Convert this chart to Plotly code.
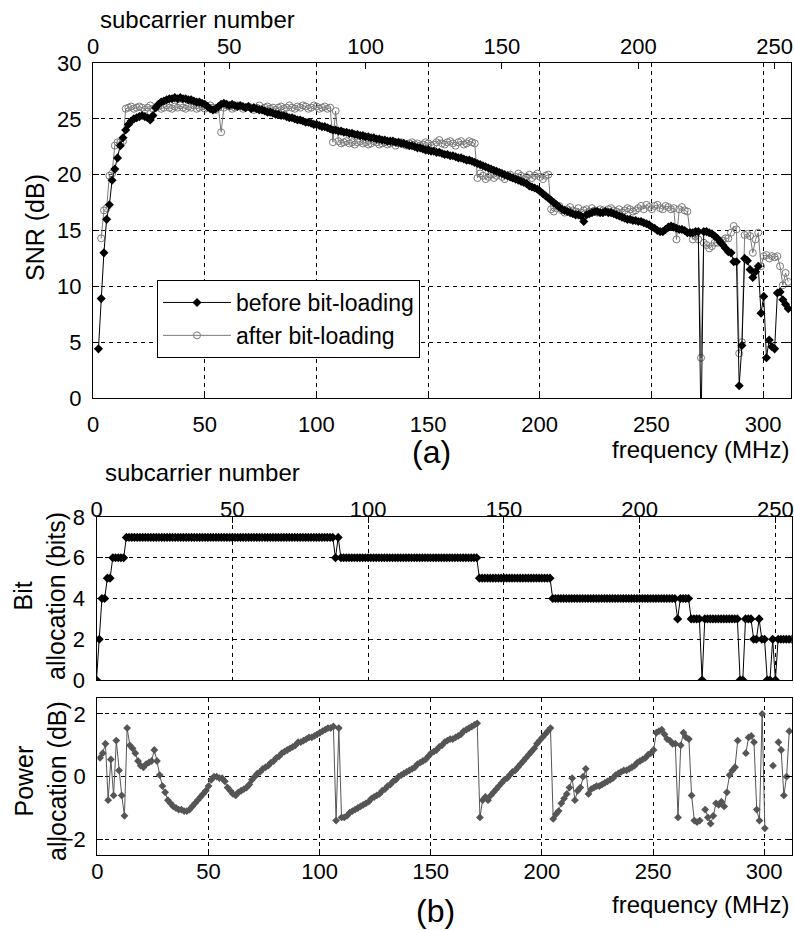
import plotly.graph_objects as go

# ---------------- data ----------------
SUBCARRIER = list(range(257))          # subcarrier index 0..256
FREQ_MAX_MHZ = 312.5                   # frequency of subcarrier 256
N_SUB = 256
FREQ = [k * FREQ_MAX_MHZ / N_SUB for k in SUBCARRIER]

SNR_BEFORE = [
    None, None, 4.4, 8.9, 13.0, 16.0, 17.3, 19.5, 20.5, 21.5,
    22.6, 23.3, 24.0, 24.5, 24.8, 25.0, 25.1, 25.2, 25.3, 25.2,
    25.1, 24.9, 25.3, 26.0, 26.3, 26.5, 26.6, 26.7, 26.8, 26.8,
    26.9, 26.8, 26.9, 26.8, 26.8, 26.7, 26.7, 26.6, 26.5, 26.5,
    26.4, 26.3, 26.1, 25.9, 25.8, 25.9, 26.1, 26.3, 26.4, 26.3,
    26.2, 26.3, 26.2, 26.1, 26.2, 26.1, 26.0, 26.1, 25.9, 26.0,
    25.9, 25.8, 25.8, 25.7, 25.6, 25.6, 25.5, 25.4, 25.4, 25.3,
    25.3, 25.2, 25.1, 25.1, 25.0, 24.9, 24.9, 24.8, 24.7, 24.7,
    24.6, 24.5, 24.5, 24.4, 24.3, 24.3, 24.2, 24.1, 24.0, 24.0,
    23.9, 23.9, 23.8, 23.8, 23.7, 23.7, 23.6, 23.6, 23.5, 23.5,
    23.4, 23.4, 23.3, 23.3, 23.2, 23.2, 23.1, 23.1, 23.0, 23.0,
    23.0, 22.9, 22.9, 22.8, 22.8, 22.7, 22.6, 22.6, 22.5, 22.4,
    22.4, 22.3, 22.2, 22.2, 22.1, 22.1, 22.0, 22.0, 21.9, 21.8,
    21.8, 21.7, 21.7, 21.6, 21.5, 21.5, 21.4, 21.3, 21.3, 21.2,
    21.1, 21.0, 20.9, 20.8, 20.7, 20.6, 20.5, 20.4, 20.3, 20.2,
    20.1, 20.0, 19.9, 19.8, 19.7, 19.6, 19.5, 19.4, 19.3, 19.2,
    19.0, 18.9, 18.8, 18.7, 18.5, 18.3, 18.1, 17.9, 17.7, 17.5,
    17.3, 17.1, 16.9, 16.8, 16.7, 16.6, 16.5, 16.4, 16.4, 16.3,
    15.8, 16.4, 16.5, 16.6, 16.7, 16.7, 16.6, 16.6, 16.7, 16.6,
    16.6, 16.5, 16.4, 16.3, 16.2, 16.1, 16.0, 16.0, 15.9, 15.9,
    15.8, 15.8, 15.7, 15.6, 15.5, 15.3, 15.2, 15.0, 14.9, 14.9,
    15.1, 15.3, 15.4, 15.3, 15.2, 15.1, 15.1, 15.0, 14.8, 14.8,
    14.8, 14.9, 14.9, -3.0, 14.9, 14.9, 14.8, 14.7, 14.5, 14.3,
    14.0, 13.7, 13.4, 13.1, 13.0, 12.2, 12.2, 1.1, 4.7, 12.5,
    12.3, 11.5, 10.8, 11.3, 11.8, 7.6, 9.1, 3.6, 5.2, 4.6,
    4.4, 9.4, 9.5, 8.8, 8.4, 8.0, None,
]

SNR_AFTER = [
    None, None, None, 14.3, 16.8, 17.0, 19.9, 20.1, 22.6, 22.9,
    22.9, 23.0, 25.9, 26.0, 26.1, 25.9, 26.0, 26.1, 26.0, 25.8,
    26.0, 26.2, 25.9, 26.0, 26.1, 25.9, 26.0, 26.2, 26.0, 25.9,
    26.1, 26.0, 26.2, 26.0, 25.9, 26.1, 26.0, 26.2, 25.9, 26.0,
    26.1, 25.9, 26.0, 26.2, 26.0, 25.8, 26.0, 23.8, 26.0, 26.2,
    26.1, 25.9, 26.0, 26.2, 26.1, 25.9, 26.0, 26.1, 26.0, 25.8,
    26.0, 26.2, 25.9, 26.0, 26.1, 25.9, 26.0, 25.8, 26.0, 26.1,
    25.9, 26.0, 26.2, 26.0, 25.9, 26.1, 26.0, 26.2, 26.1, 25.9,
    26.0, 26.2, 26.1, 25.9, 26.0, 26.1, 25.9, 26.0, 22.9, 25.7,
    23.0, 22.8, 22.9, 23.0, 22.8, 22.9, 22.7, 22.9, 23.0, 22.8,
    22.9, 22.7, 22.8, 23.0, 22.9, 22.7, 22.8, 22.9, 22.7, 22.8,
    22.9, 22.6, 22.8, 22.9, 22.7, 22.6, 22.8, 22.9, 22.7, 22.8,
    22.6, 22.7, 22.9, 22.8, 22.6, 22.7, 22.9, 23.1, 22.8, 22.7,
    22.9, 23.0, 22.8, 22.6, 22.9, 23.0, 22.7, 22.8, 23.0, 22.9,
    22.8, 19.7, 20.1, 19.9, 19.6, 19.8, 20.0, 19.7, 19.9, 20.2,
    19.8, 19.6, 19.9, 20.0, 19.7, 19.8, 20.1, 19.9, 19.6, 19.8,
    20.0, 19.7, 19.9, 20.1, 19.8, 19.6, 19.9, 20.0, 16.9, 16.7,
    17.0, 17.2, 16.8, 16.6, 16.9, 17.1, 16.8, 16.7, 17.0, 16.6,
    16.8, 16.9, 16.7, 17.0, 16.8, 16.6, 16.9, 16.8, 16.7, 16.9,
    17.0, 16.8, 16.7, 16.9, 16.6, 16.8, 17.0, 16.9, 16.7, 16.8,
    17.0, 17.2, 16.9, 17.3, 17.1, 16.9, 17.2, 17.3, 17.0, 16.9,
    17.2, 17.1, 16.9, 17.0, 14.2, 16.9, 17.1, 16.8, 16.7, 14.8,
    14.2, 14.5, 14.2, 3.6, 13.9, 13.7, 13.4, 13.6, 13.9, 13.9,
    14.0, 14.1, 14.3, 14.3, 14.8, 15.4, 15.1, 4.0, 5.0, 14.6,
    14.7, 14.5, 13.0, 14.2, 14.8, 11.8, 12.7, 12.8, 12.5, 12.7,
    12.6, 12.7, 11.8, 10.1, 11.2, 10.4, None,
]

BITS = [
    0, 2, 4, 4, 5, 5, 6, 6, 6, 6,
    6, 7, 7, 7, 7, 7, 7, 7, 7, 7,
    7, 7, 7, 7, 7, 7, 7, 7, 7, 7,
    7, 7, 7, 7, 7, 7, 7, 7, 7, 7,
    7, 7, 7, 7, 7, 7, 7, 7, 7, 7,
    7, 7, 7, 7, 7, 7, 7, 7, 7, 7,
    7, 7, 7, 7, 7, 7, 7, 7, 7, 7,
    7, 7, 7, 7, 7, 7, 7, 7, 7, 7,
    7, 7, 7, 7, 7, 7, 7, 7, 6, 7,
    6, 6, 6, 6, 6, 6, 6, 6, 6, 6,
    6, 6, 6, 6, 6, 6, 6, 6, 6, 6,
    6, 6, 6, 6, 6, 6, 6, 6, 6, 6,
    6, 6, 6, 6, 6, 6, 6, 6, 6, 6,
    6, 6, 6, 6, 6, 6, 6, 6, 6, 6,
    6, 5, 5, 5, 5, 5, 5, 5, 5, 5,
    5, 5, 5, 5, 5, 5, 5, 5, 5, 5,
    5, 5, 5, 5, 5, 5, 5, 5, 4, 4,
    4, 4, 4, 4, 4, 4, 4, 4, 4, 4,
    4, 4, 4, 4, 4, 4, 4, 4, 4, 4,
    4, 4, 4, 4, 4, 4, 4, 4, 4, 4,
    4, 4, 4, 4, 4, 4, 4, 4, 4, 4,
    4, 4, 4, 4, 3, 4, 4, 4, 4, 3,
    3, 3, 3, 0, 3, 3, 3, 3, 3, 3,
    3, 3, 3, 3, 3, 3, 3, 0, 0, 3,
    3, 3, 2, 2, 3, 2, 2, 0, 0, 2,
    0, 2, 2, 2, 2, 2, 2,
]

POWER_DB = [
    None, 0.6, 0.75, 1.05, -0.75, 0.55, -0.6, 1.15, 0.2, -0.6,
    -1.25, 1.55, 1.0, 0.9, 0.75, 0.5, 0.35, 0.3, 0.4, 0.45,
    0.5, 0.85, 0.5, 0.05, -0.3, -0.5, -0.75, -0.85, -0.95, -1.0,
    -1.05, -1.05, -1.1, -1.1, -1.05, -0.95, -0.85, -0.75, -0.65, -0.55,
    -0.45, -0.3, -0.1, 0.0, 0.0, -0.05, -0.05, -0.15, -0.35, -0.45,
    -0.55, -0.6, -0.5, -0.45, -0.4, -0.35, -0.25, -0.1, 0.0, 0.1,
    0.15, 0.25, 0.3, 0.35, 0.45, 0.5, 0.6, 0.65, 0.75, 0.8,
    0.85, 0.9, 0.95, 1.0, 1.1, 1.1, 1.15, 1.2, 1.25, 1.25,
    1.3, 1.35, 1.4, 1.45, 1.5, 1.55, 1.55, 1.6, -1.4, 1.55,
    -1.3, -1.3, -1.25, -1.15, -1.1, -1.05, -1.0, -0.95, -0.9, -0.85,
    -0.8, -0.7, -0.65, -0.6, -0.55, -0.45, -0.4, -0.3, -0.25, -0.15,
    -0.1, 0.0, 0.05, 0.1, 0.15, 0.2, 0.25, 0.3, 0.4, 0.45,
    0.5, 0.55, 0.65, 0.75, 0.8, 0.85, 0.95, 1.0, 1.1, 1.15,
    1.2, 1.2, 1.25, 1.3, 1.35, 1.45, 1.5, 1.55, 1.6, 1.65,
    1.7, -1.3, -0.75, -0.65, -0.75, -0.6, -0.5, -0.4, -0.3, -0.2,
    -0.1, -0.05, 0.05, 0.15, 0.2, 0.3, 0.4, 0.5, 0.6, 0.7,
    0.8, 0.9, 1.05, 1.15, 1.25, 1.35, 1.45, 1.55, -1.35, -1.2,
    -1.1, -0.85, -0.7, -0.55, -0.35, -0.05, -0.75, -0.45, -0.35, 0.0,
    0.25, -0.55, -0.4, -0.35, -0.3, -0.3, -0.25, -0.2, -0.15, -0.1,
    -0.05, 0.05, 0.1, 0.15, 0.2, 0.2, 0.25, 0.3, 0.35, 0.45,
    0.5, 0.55, 0.6, 0.7, 0.75, 0.85, 1.4, 1.45, 1.5, 1.35,
    1.2, 1.15, 1.05, 1.05, -1.3, 1.0, 1.4, 1.25, 1.2, -0.6,
    -1.4, -1.45, -1.4, None, -1.05, -1.3, -1.5, -1.25, -0.85, -0.9,
    -0.8, -0.95, -0.5, 0.05, 0.2, 0.3, 1.15, None, None, 0.75,
    1.25, 1.3, 1.1, -1.05, -1.4, 2.0, -1.65, None, None, 0.35,
    None, 1.1, 0.85, -0.6, 0.0, 1.45, None,
]

FREQ_TICKS = [0, 50, 100, 150, 200, 250, 300]
SUB_TICKS = [0, 50, 100, 150, 200, 250]
SNR_TICKS = [0, 5, 10, 15, 20, 25, 30]
BIT_TICKS = [0, 2, 4, 6, 8]
POW_TICKS = [-2, 0, 2]

# ---------------- styling ----------------
W, H = 794, 930
FONT = "Liberation Sans, Arial, sans-serif"
GREY = "#7a7a7a"
PGREY = "#555555"


def px(x):
    return x / W


def py(y):
    return 1 - y / H


common_axis = dict(
    showline=True, linecolor="black", linewidth=1.3,
    ticks="inside", ticklen=6, tickcolor="black", tickwidth=1,
    tickfont=dict(family=FONT, size=22, color="black"),
    gridcolor="black", gridwidth=1, griddash="4px,4px",
    zeroline=False, tickmode="array", ticklabelstandoff=6,
    automargin=False,
)

fig = go.Figure()

# "before" drawn against the subcarrier-number axis (top), "after" against the
# frequency axis (bottom); both axes span the same subcarriers, so the marks line up.
fig.add_trace(go.Scatter(
    x=SUBCARRIER, y=SNR_BEFORE, name="before bit-loading", mode="lines+markers",
    line=dict(color="black", width=1),
    marker=dict(symbol="diamond", size=7, color="black"),
    xaxis="x2", yaxis="y",
))
fig.add_trace(go.Scatter(
    x=FREQ, y=SNR_AFTER, name="after bit-loading", mode="lines+markers",
    line=dict(color=GREY, width=1),
    marker=dict(symbol="circle-open", size=7, color=GREY, line=dict(width=1)),
    xaxis="x", yaxis="y",
))
fig.add_trace(go.Scatter(
    x=SUBCARRIER, y=BITS, mode="lines+markers", showlegend=False,
    line=dict(color="black", width=1),
    marker=dict(symbol="diamond", size=7, color="black"),
    xaxis="x3", yaxis="y2",
))
fig.add_trace(go.Scatter(
    x=FREQ, y=POWER_DB, mode="lines+markers", showlegend=False,
    line=dict(color=PGREY, width=1),
    marker=dict(symbol="diamond", size=6, color=PGREY),
    xaxis="x4", yaxis="y3",
))

dom_a_x = [px(93), px(791)]
dom_a_y = [py(398), py(63)]
dom_b1_x = [px(96.5), px(791.7)]
dom_b1_y = [py(680), py(517)]
dom_b2_x = [px(97.3), px(792)]
dom_b2_y = [py(855), py(698.3)]

fig.update_layout(
    width=W, height=H, autosize=False,
    margin=dict(l=0, r=0, t=0, b=0, pad=0),
    paper_bgcolor="white", plot_bgcolor="white",
    font=dict(family=FONT, size=22, color="black"),
    xaxis=dict(common_axis, domain=dom_a_x, anchor="y", side="bottom",
               range=[0, FREQ_MAX_MHZ], tickvals=FREQ_TICKS, showgrid=True,
               mirror=True),
    xaxis2=dict(common_axis, overlaying="x", anchor="y", side="top",
                range=[0, N_SUB], tickvals=SUB_TICKS, showgrid=False,
                showline=False, ticklabelstandoff=4),
    yaxis=dict(common_axis, domain=dom_a_y, anchor="x", range=[0, 30],
               tickvals=SNR_TICKS, showgrid=True, mirror="ticks"),
    xaxis3=dict(common_axis, domain=dom_b1_x, anchor="y2", side="top",
                range=[0, N_SUB], tickvals=SUB_TICKS, showgrid=True,
                mirror=True, ticklabelstandoff=-10),
    yaxis2=dict(common_axis, domain=dom_b1_y, anchor="x3", range=[0, 8],
                tickvals=BIT_TICKS, showgrid=True, mirror="ticks"),
    xaxis4=dict(common_axis, domain=dom_b2_x, anchor="y3", side="bottom",
                range=[0, FREQ_MAX_MHZ], tickvals=FREQ_TICKS, showgrid=True,
                mirror=True, ticklabelstandoff=-4),
    yaxis3=dict(common_axis, domain=dom_b2_y, anchor="x4", range=[-2.5, 2.5],
                tickvals=POW_TICKS, showgrid=True, mirror="ticks"),
    showlegend=True,
    legend=dict(
        x=px(157), y=py(280), xanchor="left", yanchor="top",
        bgcolor="white", bordercolor="black", borderwidth=1,
        font=dict(family=FONT, size=23, color="black"),
        itemwidth=68, tracegroupgap=0, traceorder="normal",
    ),
)


def label(text, x, y, size=24, angle=0, xanchor="center"):
    fig.add_annotation(
        text=text, x=px(x), y=py(y), xref="paper", yref="paper",
        showarrow=False, textangle=angle, xanchor=xanchor, yanchor="middle",
        font=dict(family=FONT, size=size, color="black"),
    )


label("subcarrier number", 197, 20)
label("SNR (dB)", 35, 228, size=25, angle=-90)
label("frequency (MHz)", 791, 449, xanchor="right")
label("(a)", 431, 452, size=32)
label("subcarrier number", 202, 473)
label("Bit<br>allocation (bits)", 39, 596, size=25, angle=-90)
label("Power<br>allocation (dB)", 40, 781, size=25, angle=-90)
label("frequency (MHz)", 791, 904, xanchor="right")
label("(b)", 435, 911, size=32)

fig.write_html("out.html", config={"displayModeBar": False},
               post_script="document.body.style.margin='0px';")
